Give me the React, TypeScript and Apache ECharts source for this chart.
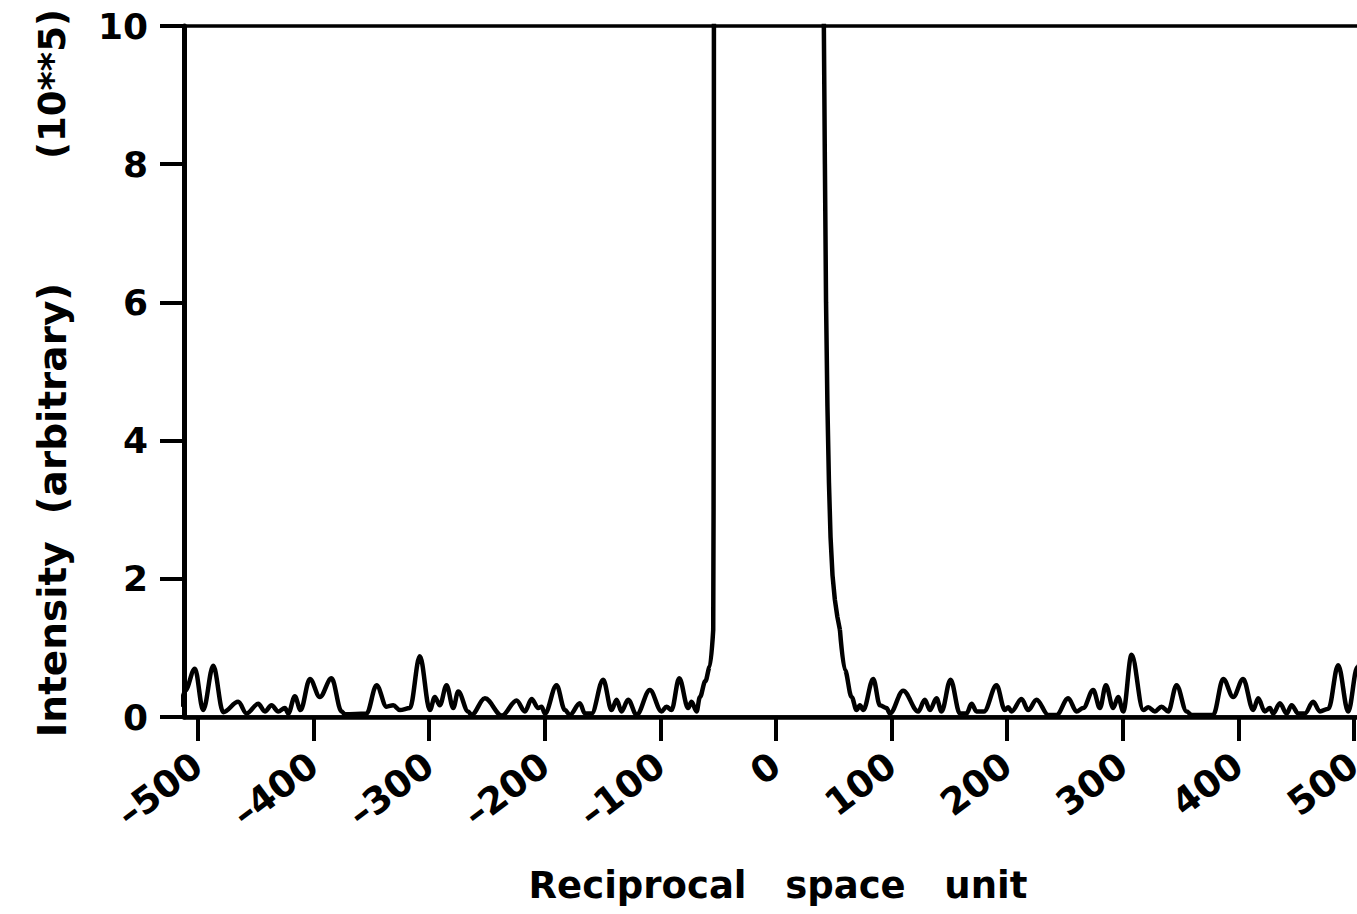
import React, { useEffect, useRef } from "react";
import * as echarts from "echarts";

// Tick values
const xTickValues = [-500, -400, -300, -200, -100, 0, 100, 200, 300, 400, 500];
const yTickValues = [0, 2, 4, 6, 8, 10];

// Left side lobes (reciprocal space unit, intensity in 10**5)
const leftX = [
  -515, -511, -502.6, -495.4, -486.7, -478.1, -465.1, -457.9, -447.8, -442, -436.3, -430.5,
  -424.7, -421.8, -416.1, -411.2, -403.1, -394.5, -384.4, -375.7, -372.8, -354.1, -345.4,
  -336.8, -331, -325.2, -316.6, -308, -299.3, -295, -290.7, -284.9, -279.1, -274.8, -266.2,
  -263.3, -251.7, -237, -224.3, -217.1, -211.3, -205.6, -202.7, -199.8, -189.7, -182.5,
  -178.2, -169.6, -165.2, -159.4, -149.4, -142.1, -137.8, -133.5, -127.8, -120.5, -109,
  -98.9, -94.6, -90.3, -83.6, -75.9, -73, -68.6, -65.7, -61, -57.1, -54.2,
];
const leftY = [
  0.15, 0.38, 0.7, 0.1, 0.74, 0.07, 0.22, 0.05, 0.19, 0.08, 0.17, 0.08,
  0.13, 0.05, 0.3, 0.1, 0.55, 0.29, 0.56, 0.08, 0.04, 0.05, 0.46,
  0.15, 0.17, 0.1, 0.13, 0.88, 0.1, 0.29, 0.17, 0.46, 0.13, 0.37, 0.08,
  0.03, 0.27, 0.02, 0.24, 0.08, 0.26, 0.13, 0.15, 0.05, 0.46, 0.1,
  0.03, 0.2, 0.05, 0.05, 0.54, 0.1, 0.25, 0.08, 0.25, 0.03, 0.39,
  0.08, 0.15, 0.1, 0.56, 0.13, 0.22, 0.08, 0.29, 0.52, 0.73, 1.26,
];

// Central (off-scale) peak
const centerX = [
  -54.2, -53.9, -53.7, -53.6, -53.2, 41.0, 41.5, 42.4, 43.4, 44.6, 45.9, 47.3, 49.0, 51.0, 53.2, 55.4,
];
const centerY = [
  1.26, 3.0, 6.0, 10.0, 14.0, 14.0, 10.0, 8.0, 6.0, 4.5, 3.4, 2.6, 2.05, 1.7, 1.45, 1.26,
];

// Right side lobes
const rightX = [
  55.4, 59.7, 65.5, 69.8, 72.7, 75.6, 84.2, 90, 95.7, 98.6, 110.1, 123.1, 128.9, 133.2, 139,
  143.3, 151.1, 159.2, 164.9, 169.3, 173.6, 180, 190.9, 198.1, 201, 203.9, 212.5, 218.3,
  225.5, 235.6, 242.8, 252.9, 260.1, 265.9, 274.5, 280.3, 285.5, 291.8, 296.1, 300.5, 307.7,
  317.8, 322.1, 327.9, 333.6, 339.4, 346.6, 355.3, 359.6, 378.3, 387, 395.6, 404.2, 412.9,
  417.2, 422.9, 427.3, 430.2, 436, 441.8, 446.1, 451.9, 457.6, 464.8, 470.6, 478, 486.4,
  495.1, 503, 506, 514,
];
const rightY = [
  1.26, 0.68, 0.29, 0.1, 0.17, 0.1, 0.55, 0.17, 0.13, 0.05, 0.38, 0.08, 0.25, 0.1, 0.27,
  0.08, 0.54, 0.05, 0.05, 0.19, 0.08, 0.08, 0.46, 0.1, 0.14, 0.08, 0.26, 0.1,
  0.25, 0.03, 0.03, 0.27, 0.08, 0.13, 0.39, 0.13, 0.46, 0.13, 0.29, 0.08, 0.9,
  0.1, 0.14, 0.08, 0.15, 0.08, 0.46, 0.08, 0.03, 0.03, 0.55, 0.29, 0.55, 0.1,
  0.27, 0.08, 0.13, 0.05, 0.2, 0.05, 0.17, 0.05, 0.05, 0.22, 0.08, 0.12, 0.75,
  0.08, 0.72, 0.78, 0.1,
];

const FONT = "'DejaVu Sans', 'Liberation Sans', sans-serif";

const zip = (xs: number[], ys: number[]) => xs.map((x, i) => [x, ys[i]]);

export default function App() {
  const ref = useRef<HTMLDivElement>(null);

  useEffect(() => {
    if (!ref.current) return;
    const chart = echarts.init(ref.current, undefined, { renderer: "svg" });
    const lineStyle = { color: "#000", width: 4.5 };
    chart.setOption({
      animation: false,
      backgroundColor: "#fff",
      grid: {
        left: 184,
        top: 26,
        width: 1193,
        height: 691,
        show: true,
        borderColor: "#000",
        borderWidth: 3.5,
        backgroundColor: "transparent",
        containLabel: false,
        outerBoundsMode: "none",
      },
      xAxis: {
        type: "value",
        min: -512,
        max: 520,
        axisLine: { show: true, onZero: false, lineStyle: { color: "#000", width: 4.5 } },
        axisTick: {
          show: true,
          length: 24,
          customValues: xTickValues,
          lineStyle: { color: "#000", width: 4 },
        },
        axisLabel: {
          customValues: xTickValues,
          rotate: 37,
          margin: 44,
          color: "#000",
          fontSize: 37,
          fontWeight: "bold",
          fontFamily: FONT,
          formatter: (v: number) => (v < 0 ? "\u2013" + Math.abs(v) : String(v)),
        },
        splitLine: { show: false },
      },
      yAxis: {
        type: "value",
        min: yTickValues[0],
        max: yTickValues[yTickValues.length - 1],
        interval: 2,
        axisLine: { show: true, onZero: false, lineStyle: { color: "#000", width: 5 } },
        axisTick: { show: true, length: 24, lineStyle: { color: "#000", width: 4 } },
        axisLabel: {
          margin: 36,
          color: "#000",
          fontSize: 36,
          fontWeight: "bold",
          fontFamily: FONT,
        },
        splitLine: { show: false },
      },
      series: [
        {
          type: "line",
          data: zip(leftX, leftY),
          smooth: 0.35,
          smoothMonotone: "x",
          showSymbol: false,
          symbol: "none",
          lineStyle,
          clip: true,
        },
        {
          type: "line",
          data: zip(centerX, centerY),
          smooth: false,
          showSymbol: false,
          symbol: "none",
          lineStyle,
          clip: true,
        },
        {
          type: "line",
          data: zip(rightX, rightY),
          smooth: 0.35,
          smoothMonotone: "x",
          showSymbol: false,
          symbol: "none",
          lineStyle,
          clip: true,
        },
      ],
      graphic: [
        {
          type: "text",
          x: 778,
          y: 885,
          style: {
            text: "Reciprocal   space   unit",
            fontSize: 37,
            fontWeight: "bold",
            fontFamily: FONT,
            fill: "#000",
            align: "center",
            verticalAlign: "middle",
          },
        },
        {
          type: "text",
          x: 52,
          y: 510,
          rotation: Math.PI / 2,
          style: {
            text: "Intensity  (arbitrary)",
            fontSize: 39,
            fontWeight: "bold",
            fontFamily: FONT,
            fill: "#000",
            align: "center",
            verticalAlign: "middle",
          },
        },
        {
          type: "text",
          x: 52,
          y: 84,
          rotation: Math.PI / 2,
          style: {
            text: "(10**5)",
            fontSize: 37,
            fontWeight: "bold",
            fontFamily: FONT,
            fill: "#000",
            align: "center",
            verticalAlign: "middle",
          },
        },
      ],
    });
    return () => chart.dispose();
  }, []);

  return (
    <div
      ref={ref}
      style={{ position: "absolute", left: 0, top: 0, width: 1357, height: 914, background: "#fff" }}
    />
  );
}
